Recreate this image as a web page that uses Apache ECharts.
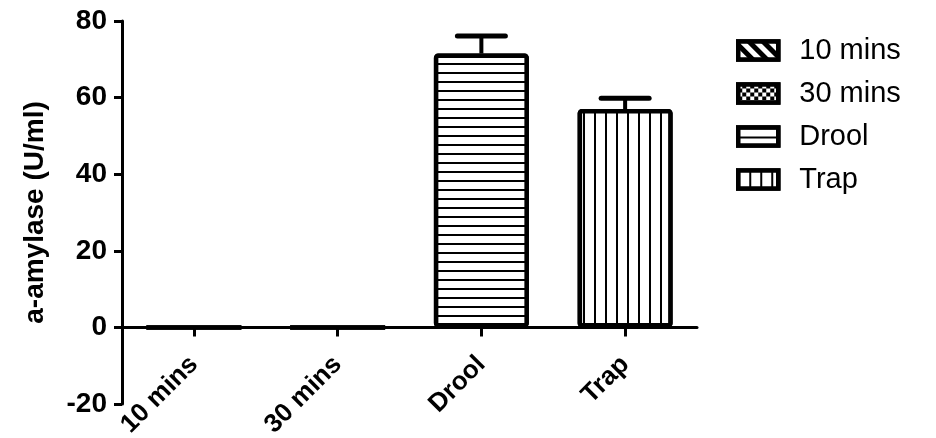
<!DOCTYPE html>
<html>
<head>
<meta charset="utf-8">
<script src="https://cdn.jsdelivr.net/npm/echarts@6/dist/echarts.min.js"></script>
<style>
html,body{margin:0;padding:0;background:#fff;}
#chart{width:936px;height:438px;}
</style>
</head>
<body>
<div id="chart"></div>
<script>
const categories = ['10 mins', '30 mins', 'Drool', 'Trap'];
const means = [0, 0, 71.5, 57];
const errors = [0, 0, 4.6, 2.8];
const yTicks = [-20, 0, 20, 40, 60, 80];
const yTitle = 'a-amylase (U/ml)';

const FONT = "'Liberation Sans', Arial, sans-serif";

const decals = [
  { symbol: 'rect', symbolSize: 1, dashArrayX: [1, 0], dashArrayY: [5, 5], rotation: Math.PI / 4, color: '#000', backgroundColor: '#fff' },
  { symbol: 'rect', symbolSize: 1, dashArrayX: [[4, 4], [0, 4, 4, 0]], dashArrayY: [4, 0], rotation: 0, color: '#000', backgroundColor: '#fff' },
  { symbol: 'rect', symbolSize: 1, dashArrayX: [1, 0], dashArrayY: [1.5, 6.5], rotation: 0, color: '#000', backgroundColor: '#fff' },
  { symbol: 'rect', symbolSize: 1, dashArrayX: [1.5, 8.2], dashArrayY: [1, 0], rotation: 0, color: '#000', backgroundColor: '#fff' }
];

const barSeries = categories.map((name, i) => ({
  name: name,
  type: 'bar',
  barWidth: 95,
  barGap: '-100%',
  data: categories.map((c, j) => (j === i ? means[j] : '-')),
  itemStyle: {
    color: '#fff',
    borderColor: '#000',
    borderWidth: 4.5,
    borderRadius: 2,
    decal: decals[i]
  },
  emphasis: { disabled: true },
  z: 2
}));

const errorSeries = {
  type: 'custom',
  data: categories.map((c, i) => [i, means[i], errors[i]]),
  renderItem: function (params, api) {
    const idx = api.value(0);
    const m = api.value(1);
    const e = api.value(2);
    if (!e) return null;
    const base = api.coord([idx, m]);
    const top = api.coord([idx, m + e]);
    const half = 24;
    return {
      type: 'group',
      children: [
        { type: 'line', shape: { x1: base[0], y1: base[1], x2: top[0], y2: top[1] }, style: { stroke: '#000', lineWidth: 4 } },
        { type: 'line', shape: { x1: top[0] - half, y1: top[1], x2: top[0] + half, y2: top[1] }, style: { stroke: '#000', lineWidth: 5, lineCap: 'round' } }
      ]
    };
  },
  z: 3,
  silent: true
};

const chart = echarts.init(document.getElementById('chart'));
chart.setOption({
  animation: false,
  backgroundColor: '#fff',
  textStyle: { fontFamily: FONT },
  grid: { left: 122, right: 239, top: 21, bottom: 34, containLabel: false, outerBoundsMode: 'none' },
  legend: {
    orient: 'vertical',
    left: 736,
    top: 36,
    itemWidth: 40,
    itemHeight: 18,
    itemGap: 14,
    icon: 'rect',
    padding: 0,
    selectedMode: false,
    data: categories,
    itemStyle: { borderColor: '#000', borderWidth: 4.5, borderRadius: 3 },
    textStyle: { fontSize: 29, color: '#000', fontFamily: FONT, padding: [0, 0, 0, 16] }
  },
  xAxis: {
    type: 'category',
    data: categories,
    offset: -76.6,
    axisLine: { onZero: false, lineStyle: { color: '#000', width: 3 } },
    axisTick: { show: true, alignWithLabel: true, inside: false, length: 9, lineStyle: { color: '#000', width: 3 } },
    axisLabel: { rotate: 45, fontSize: 26, fontWeight: 'bold', color: '#000', margin: 33, fontFamily: FONT },
    splitLine: { show: false }
  },
  yAxis: {
    type: 'value',
    min: yTicks[0],
    max: yTicks[yTicks.length - 1],
    interval: 20,
    name: yTitle,
    nameLocation: 'middle',
    nameGap: 73,
    nameTextStyle: { fontSize: 28, fontWeight: 'bold', color: '#000', fontFamily: FONT },
    axisLine: { show: true, lineStyle: { color: '#000', width: 3 } },
    axisTick: { show: true, length: 8, lineStyle: { color: '#000', width: 3 } },
    axisLabel: { fontSize: 28, fontWeight: 'bold', color: '#000', margin: 15, fontFamily: FONT },
    splitLine: { show: false }
  },
  series: barSeries.concat([errorSeries])
});
</script>
</body>
</html>
